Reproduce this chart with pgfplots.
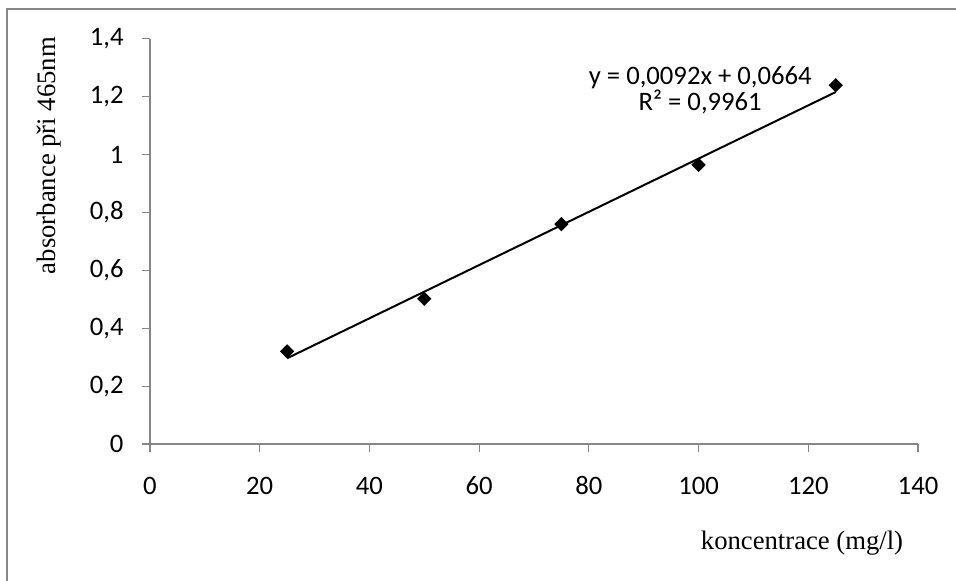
\documentclass[border=0pt]{standalone}
\usepackage{fontspec}
\setmainfont{Carlito}
\newfontfamily\timesfont{Liberation Serif}
\usepackage{pgfplots}
\pgfplotsset{compat=1.18}
\definecolor{axisgray}{RGB}{134,134,134}

\begin{document}
\begin{tikzpicture}
% page = 956x581 px at 0.375pt per px
\useasboundingbox (0,0) rectangle (358.5pt,217.875pt);
\draw[axisgray, line width=0.55pt] (2.6pt,0) -- (2.6pt,214.5pt) -- (358.5pt,214.5pt);
\begin{axis}[
    at={(56.25pt,51.375pt)}, anchor=south west,
    scale only axis,
    width=288pt, height=151.9pt,
    xmin=0, xmax=140, ymin=0, ymax=1.4,
    xtick={0,20,...,140},
    ytick={0,0.2,0.4,0.6,0.8,1,1.2,1.4},
    axis x line=bottom, axis y line=left,
    axis line style={axisgray, line width=0.4pt, -},
    tick style={axisgray, line width=0.4pt},
    tick align=outside, major tick length=3pt,
    /pgf/number format/assume math mode=true,
    /pgf/number format/use comma,
    /pgf/number format/fixed,
    /pgf/number format/precision=1,
    ticklabel style={font=\fontsize{10}{12}\selectfont},
    xticklabel style={yshift=-6pt, text height=6.5pt, text depth=0pt},
    yticklabel style={xshift=-3.4pt},
    xlabel={koncentrace (mg/l)},
    ylabel={absorbance při 465nm},
    every axis x label/.style={at={(rel axis cs:0.849,-0.244)}, anchor=center,
        font=\timesfont\fontsize{10}{12}\selectfont},
    every axis y label/.style={at={(rel axis cs:-0.131,0.712)}, anchor=center, rotate=90,
        font=\timesfont\fontsize{10}{12}\selectfont},
    clip=false,
]
% trend line y = 0.0092x + 0.0664
\addplot[black, line width=0.75pt, no marks] coordinates {(25,0.2964) (125,1.2164)};
\addplot[only marks, mark=square*, mark size=1.7pt, mark options={rotate=45, fill=black, draw=black}]
    coordinates {(25,0.32) (50,0.502) (75,0.76) (100,0.965) (125,1.24)};
\node[font=\fontsize{10}{12}\selectfont] at (axis cs:100.3,1.265) {y = 0,0092x + 0,0664};
\node[font=\fontsize{10}{12}\selectfont] at (axis cs:100.3,1.183) {R² = 0,9961};
\end{axis}
\end{tikzpicture}
\end{document}
